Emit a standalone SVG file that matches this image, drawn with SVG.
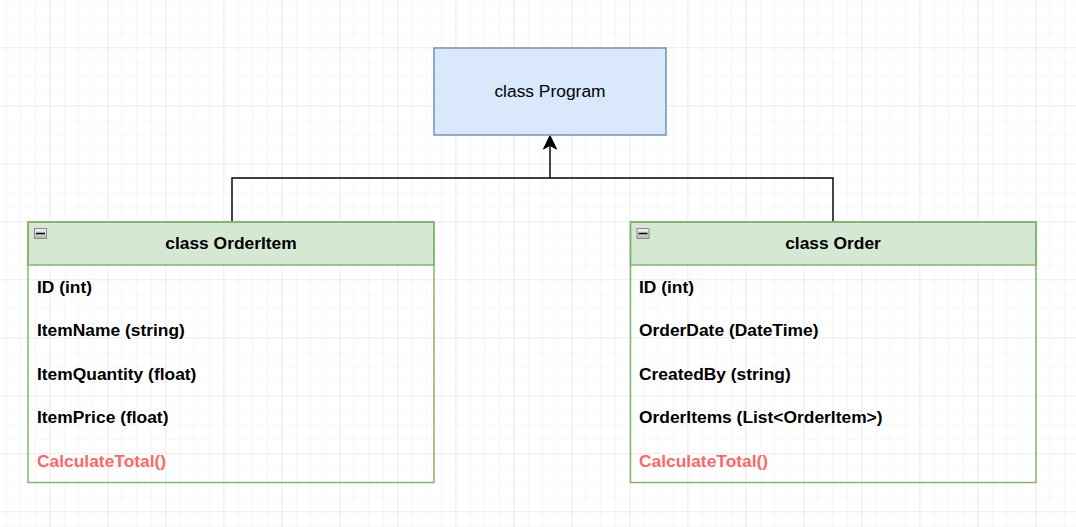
<svg xmlns="http://www.w3.org/2000/svg" width="1076" height="527" viewBox="0 0 1076 527">
  <defs>
    <pattern id="minor" x="-8.7" y="-10.7" width="14.5" height="14.5" patternUnits="userSpaceOnUse">
      <path d="M0 0H14.5M0 0V14.5" fill="none" stroke="#f1f1f1" stroke-width="1.2"/>
    </pattern>
    <pattern id="major" x="-8.7" y="-10.7" width="58" height="58" patternUnits="userSpaceOnUse">
      <path d="M0 0H58M0 0V58" fill="none" stroke="#e2e2e2" stroke-width="1.2"/>
    </pattern>
    <linearGradient id="iconGrad" x1="0" y1="0" x2="0" y2="1">
      <stop offset="0" stop-color="#f4f4f4"/>
      <stop offset="1" stop-color="#b8b8b8"/>
    </linearGradient>
  </defs>
  <style>
    .hdr { fill: #d5e8d4; stroke: #82b366; stroke-width: 1.45; }
    .body { fill: none; stroke: #82b366; stroke-width: 1.45; }
    .title { font-family: "Liberation Sans", Arial, sans-serif; font-size: 17.4px; font-weight: bold; fill: #000; text-anchor: middle; }
    .attr { font-family: "Liberation Sans", Arial, sans-serif; font-size: 17.4px; font-weight: bold; fill: #000; }
    .method { font-family: "Liberation Sans", Arial, sans-serif; font-size: 17.4px; font-weight: bold; fill: #ff6666; }
    .conn { fill: none; stroke: #000; stroke-width: 1.45; }
    .icon { fill: url(#iconGrad); stroke: #8a8a8a; stroke-width: 1; }
  </style>
  <rect width="1076" height="527" fill="#ffffff"/>
  <rect width="1076" height="527" fill="url(#minor)"/>
  <rect width="1076" height="527" fill="url(#major)"/>

  <g id="connectors">
    <path class="conn" d="M232 222V178H550V145"/>
    <path class="conn" d="M833 222V178H550"/>
    <polygon points="550,135.5 543.5,149 550,145.5 556.5,149" fill="#000" stroke="#000" stroke-width="1"/>
  </g>

  <g id="program">
    <rect x="434" y="48" width="232" height="87" fill="#dae8fc" stroke="#6c8ebf" stroke-width="1.45"/>
    <text x="550" y="97" font-family="Liberation Sans, Arial, sans-serif" font-size="17.4px" fill="#000" text-anchor="middle">class Program</text>
  </g>

  <g id="orderitem">
    <rect class="hdr" x="28" y="222" width="406" height="43"/>
    <rect class="body" x="28" y="222" width="406" height="260.5"/>
    <rect class="icon" x="34.5" y="228.5" width="12" height="10"/>
    <line x1="36" y1="233.5" x2="45" y2="233.5" stroke="#000" stroke-width="1.5"/>
    <text class="title" x="231" y="249">class OrderItem</text>
    <text class="attr" x="37" y="292.5">ID (int)</text>
    <text class="attr" x="37" y="336">ItemName (string)</text>
    <text class="attr" x="37" y="379.5">ItemQuantity (float)</text>
    <text class="attr" x="37" y="423">ItemPrice (float)</text>
    <text class="method" x="37" y="466.5">CalculateTotal()</text>
  </g>

  <g id="order">
    <rect class="hdr" x="630.5" y="222" width="405.5" height="43"/>
    <rect class="body" x="630.5" y="222" width="405.5" height="260.5"/>
    <rect class="icon" x="637" y="228.5" width="12" height="10"/>
    <line x1="638.5" y1="233.5" x2="647.5" y2="233.5" stroke="#000" stroke-width="1.5"/>
    <text class="title" x="833" y="249">class Order</text>
    <text class="attr" x="639" y="292.5">ID (int)</text>
    <text class="attr" x="639" y="336">OrderDate (DateTime)</text>
    <text class="attr" x="639" y="379.5">CreatedBy (string)</text>
    <text class="attr" x="639" y="423">OrderItems (List&lt;OrderItem&gt;)</text>
    <text class="method" x="639" y="466.5">CalculateTotal()</text>
  </g>
</svg>
